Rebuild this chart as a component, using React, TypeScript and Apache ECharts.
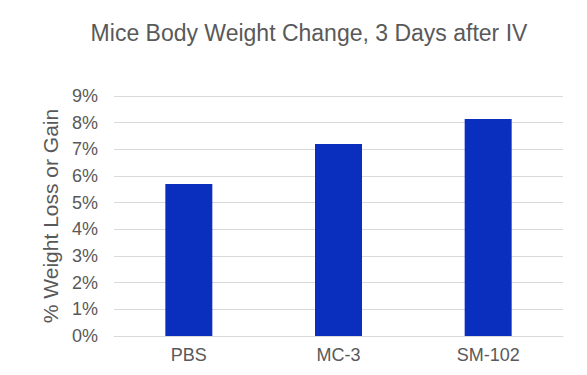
import React, { useEffect, useRef } from "react";
import * as echarts from "echarts";

const categories = ["PBS", "MC-3", "SM-102"];
const values = [5.7, 7.2, 8.14];
const yMin = 0;
const yMax = 9;
const yInterval = 1;

export default function App() {
  const ref = useRef<HTMLDivElement>(null);
  useEffect(() => {
    if (!ref.current) return;
    const chart = echarts.init(ref.current, undefined, { renderer: "svg" });
    chart.setOption({
      animation: false,
      backgroundColor: "#ffffff",
      title: {
        text: "Mice Body Weight Change, 3 Days after IV",
        left: 296,
        textAlign: "center",
        top: 8,
        textStyle: { fontFamily: "Liberation Sans, Arial", fontSize: 23, fontWeight: "normal", color: "#595959" },
      },
      grid: { left: 106, right: 16, top: 88, bottom: 31 },
      xAxis: {
        type: "category",
        data: categories,
        axisLine: { show: true, lineStyle: { color: "#d9d9d9", width: 1 } },
        axisTick: { show: false },
        axisLabel: { fontFamily: "Liberation Sans, Arial", fontSize: 18, color: "#595959", margin: 10 },
      },
      yAxis: {
        type: "value",
        min: yMin,
        max: yMax,
        interval: yInterval,
        name: "% Weight Loss or Gain",
        nameLocation: "middle",
        nameGap: 49,
        nameRotate: 90,
        nameTextStyle: { fontFamily: "Liberation Sans, Arial", fontSize: 21, color: "#595959" },
        axisLine: { show: false },
        axisTick: { show: false },
        axisLabel: { fontFamily: "Liberation Sans, Arial", fontSize: 18, color: "#595959", margin: 16, formatter: (v: number) => `${v}%` },
        splitLine: { lineStyle: { color: "#d9d9d9", width: 1 } },
      },
      series: [
        {
          type: "bar",
          data: values,
          barWidth: "31.4%",
          itemStyle: { color: "#0A2FBF" },
        },
      ],
    });
    return () => chart.dispose();
  }, []);
  return <div ref={ref} style={{ width: 571, height: 359 }} />;
}
